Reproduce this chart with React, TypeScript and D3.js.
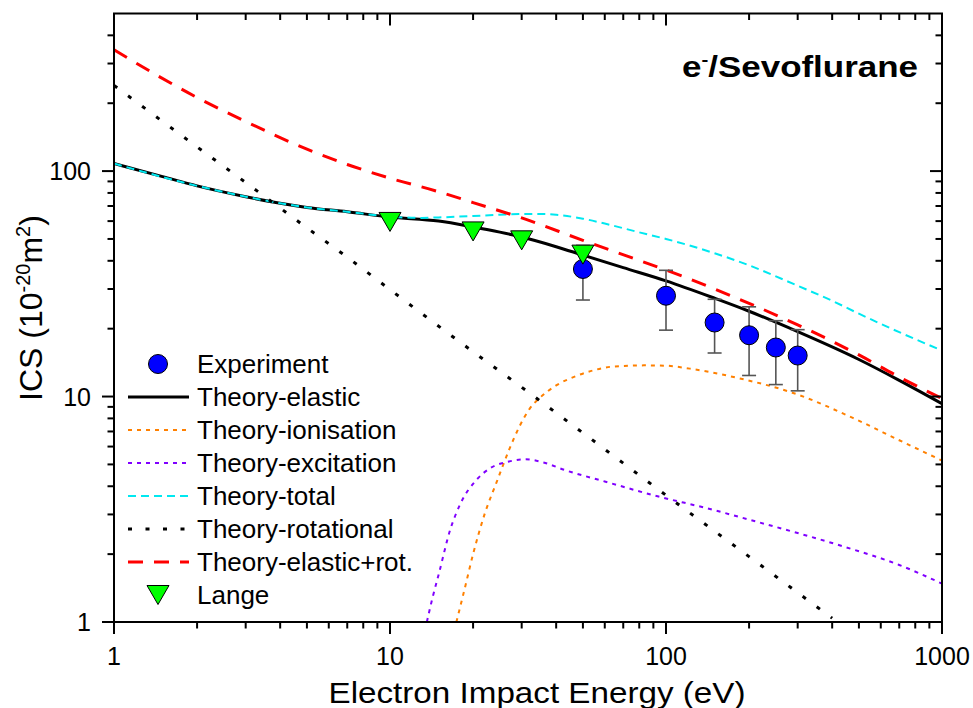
import React from 'react';
import * as d3 from 'd3';

const W = 973;
const H = 708;

// Theory-elastic
const elasticE = [1, 1.5, 2, 3, 4, 5, 7, 10, 15, 20, 25, 30, 40, 50, 70, 100, 150, 200, 300, 500, 700, 1000];
const elasticV = [108, 94.5, 86, 77, 72, 69, 66, 62.5, 60, 56.5, 53.6, 51, 46.2, 42.4, 37.3, 32.6, 27.3, 23.9, 19.4, 14.6, 11.8, 9.3];

// Theory-ionisation
const ionE = [17.4, 18.5, 20, 22, 24.3, 27, 29.5, 32, 35, 40, 47, 55, 65, 85, 100, 122, 184, 287, 490, 700, 1000];
const ionV = [1.0, 1.35, 2.0, 3.0, 4.15, 5.8, 7.4, 8.8, 9.9, 11.2, 12.3, 13.1, 13.6, 13.75, 13.7, 13.3, 12.05, 10.4, 7.9, 6.4, 5.2];

// Theory-excitation
const excE = [13.6, 14.3, 15, 16.5, 18, 20.5, 23, 27, 31, 36, 43, 60, 94, 140, 203, 300, 441, 700, 1000];
const excV = [1.0, 1.3, 1.62, 2.55, 3.35, 4.25, 4.8, 5.15, 5.27, 5.1, 4.72, 4.2, 3.6, 3.2, 2.83, 2.48, 2.16, 1.79, 1.48];

// Theory-total
const totalE = [1, 2, 3, 4, 5, 7, 10, 13, 15, 20, 25, 30, 35, 40, 50, 60, 80, 100, 150, 200, 300, 400, 500, 700, 1000];
const totalV = [108, 86, 77, 72, 69, 66, 62.8, 62, 62.3, 63.2, 64, 64.5, 64.5, 64, 61.5, 58.5, 53.5, 50, 43.2, 38.2, 31.0, 26.6, 23.3, 19.3, 16.0];

// Theory-rotational
const rotE = [1, 2, 3, 5, 7, 10, 20, 30, 50, 100, 200, 300, 400];
const rotV = [240, 128, 89, 56, 41.5, 29.8, 15.8, 11, 6.9, 3.65, 1.95, 1.35, 1.04];

// Theory-elastic+rot.
const elRotE = [1, 2, 3, 5, 7, 10, 15, 20, 30, 50, 75, 100, 150, 200, 300, 500, 700, 1000];
const elRotV = [345, 212, 166, 125, 107, 93, 81, 72.5, 62, 49.3, 41.3, 36.4, 30.0, 25.9, 20.8, 15.3, 12.2, 9.8];

// Experiment
const expE = [50, 100, 150, 200, 250, 300];
const expV = [36.8, 28.0, 21.3, 18.7, 16.5, 15.2];
const expErr = [10, 8.3, 5.7, 6.3, 5.2, 4.6];

// Lange
const langeE = [10, 20, 30, 50];
const langeV = [59.5, 54, 49.3, 42.6];

const xMajor = [1, 10, 100, 1000];
const xMajorLabels = ['1', '10', '100', '1000'];
const yMajor = [1, 10, 100];
const yMajorLabels = ['1', '10', '100'];

const FONT = '"Liberation Sans", Arial, Helvetica, sans-serif';

export default function App() {
  const left = 114, right = 942, top = 13.5, bottom = 622;
  const x = d3.scaleLog().domain([1, 1000]).range([left, right]);
  const y = d3.scaleLog().domain([1, 500]).range([bottom, top]);
  const line = d3
    .line<[number, number]>()
    .x((d) => x(d[0]))
    .y((d) => y(d[1]))
    .curve(d3.curveMonotoneX);
  const path = (es: number[], vs: number[]) => line(es.map((e, i) => [e, vs[i]] as [number, number])) || '';

  const xMinor: number[] = [];
  [1, 10, 100].forEach((d) => {
    for (let k = 2; k <= 9; k++) xMinor.push(d * k);
  });
  const yMinor: number[] = [];
  [1, 10, 100].forEach((d) => {
    for (let k = 2; k <= 9; k++) if (d * k < 500) yMinor.push(d * k);
  });

  const MAJ = 12, MIN = 6.5;

  const series = [
    { name: 'Theory-elastic', d: path(elasticE, elasticV), stroke: '#000', w: 3, dash: undefined as string | undefined },
    { name: 'Theory-ionisation', d: path(ionE, ionV), stroke: '#FF8000', w: 2, dash: '4,5' },
    { name: 'Theory-excitation', d: path(excE, excV), stroke: '#8000FF', w: 2, dash: '4,5' },
    { name: 'Theory-total', d: path(totalE, totalV), stroke: '#00E8F0', w: 2, dash: '8,5' },
    { name: 'Theory-rotational', d: path(rotE, rotV), stroke: '#000', w: 3, dash: '4,13.5' },
    { name: 'Theory-elastic+rot.', d: path(elRotE, elRotV), stroke: '#FF0000', w: 3, dash: '15,11' },
  ];

  const tri = (cx: number, cy: number) =>
    `M${cx - 11},${cy - 9.5} L${cx + 11},${cy - 9.5} L${cx},${cy + 9.5} Z`;

  const legendRows = [
    { label: 'Experiment', kind: 'circle' },
    { label: 'Theory-elastic', kind: 'line', s: series[0] },
    { label: 'Theory-ionisation', kind: 'line', s: series[1] },
    { label: 'Theory-excitation', kind: 'line', s: series[2] },
    { label: 'Theory-total', kind: 'line', s: series[3] },
    { label: 'Theory-rotational', kind: 'line', s: series[4] },
    { label: 'Theory-elastic+rot.', kind: 'line', s: series[5] },
    { label: 'Lange', kind: 'tri' },
  ];

  return (
    <svg
      width={W}
      height={H}
      viewBox={`0 0 ${W} ${H}`}
      style={{ position: 'absolute', left: 0, top: 0, background: '#fff' }}
      fontFamily={FONT}
    >
      <rect x={0} y={0} width={W} height={H} fill="#fff" />
      <defs>
        <clipPath id="plotclip">
          <rect x={left} y={top} width={right - left} height={bottom - top} />
        </clipPath>
      </defs>

      {/* curves */}
      <g clipPath="url(#plotclip)" fill="none">
        {series.map((s) => (
          <path key={s.name} d={s.d} stroke={s.stroke} strokeWidth={s.w} strokeDasharray={s.dash} />
        ))}
      </g>

      {/* experiment error bars and points */}
      <g>
        {expE.map((e, i) => {
          const cx = x(e);
          const yt = y(expV[i] + expErr[i]);
          const yb = y(expV[i] - expErr[i]);
          return (
            <g key={'eb' + e} stroke="#555" strokeWidth={1.6}>
              <line x1={cx} x2={cx} y1={yt} y2={yb} />
              <line x1={cx - 7} x2={cx + 7} y1={yt} y2={yt} />
              <line x1={cx - 7} x2={cx + 7} y1={yb} y2={yb} />
            </g>
          );
        })}
        {expE.map((e, i) => (
          <circle key={'ep' + e} cx={x(e)} cy={y(expV[i])} r={9.5} fill="#0000FF" stroke="#000" strokeWidth={1} />
        ))}
        {langeE.map((e, i) => (
          <path key={'lg' + e} d={tri(x(e), y(langeV[i]))} fill="#00FF00" stroke="#000" strokeWidth={1} />
        ))}
      </g>

      {/* ticks */}
      <g stroke="#000" strokeWidth={2}>
        {xMajor.map((v) => (
          <g key={'xM' + v}>
            <line x1={x(v)} x2={x(v)} y1={bottom} y2={bottom + MAJ} />
            <line x1={x(v)} x2={x(v)} y1={top} y2={top + MAJ} />
          </g>
        ))}
        {xMinor.map((v) => (
          <g key={'xm' + v}>
            <line x1={x(v)} x2={x(v)} y1={bottom} y2={bottom + MIN} />
            <line x1={x(v)} x2={x(v)} y1={top} y2={top + MIN} />
          </g>
        ))}
        {yMajor.map((v) => (
          <g key={'yM' + v}>
            <line x1={left} x2={left - MAJ} y1={y(v)} y2={y(v)} />
            <line x1={right} x2={right - MAJ} y1={y(v)} y2={y(v)} />
          </g>
        ))}
        {yMinor.map((v) => (
          <g key={'ym' + v}>
            <line x1={left} x2={left - MIN} y1={y(v)} y2={y(v)} />
            <line x1={right} x2={right - MIN} y1={y(v)} y2={y(v)} />
          </g>
        ))}
      </g>

      {/* frame */}
      <rect x={left} y={top} width={right - left} height={bottom - top} fill="none" stroke="#000" strokeWidth={2} />

      {/* tick labels */}
      <g fontSize={25} fill="#000">
        {xMajor.map((v, i) => (
          <text key={'xl' + v} x={x(v)} y={665} textAnchor="middle">
            {xMajorLabels[i]}
          </text>
        ))}
        {yMajor.map((v, i) => (
          <text key={'yl' + v} x={91} y={y(v) + 9} textAnchor="end">
            {yMajorLabels[i]}
          </text>
        ))}
      </g>

      {/* axis titles */}
      <text x={537} y={703} textAnchor="middle" fontSize={29} textLength={417} lengthAdjust="spacingAndGlyphs">
        Electron Impact Energy (eV)
      </text>
      <text transform="translate(42,308) rotate(-90)" textAnchor="middle" fontSize={32}>
        ICS (10
        <tspan dy={-12} fontSize={20}>-20</tspan>
        <tspan dy={12}>m</tspan>
        <tspan dy={-12} fontSize={20}>2</tspan>
        <tspan dy={12}>)</tspan>
      </text>

      {/* title */}
      <text x={918} y={77} textAnchor="end" fontSize={29} fontWeight="bold" textLength={236} lengthAdjust="spacingAndGlyphs">
        e<tspan dy={-12} fontSize={17}>-</tspan>
        <tspan dy={12}>/Sevoflurane</tspan>
      </text>

      {/* legend */}
      <g>
        {legendRows.map((r, i) => {
          const cy = 364 + i * 33;
          return (
            <g key={'leg' + i}>
              {r.kind === 'circle' && <circle cx={158} cy={cy} r={9.5} fill="#0000FF" stroke="#000" strokeWidth={1} />}
              {r.kind === 'tri' && <path d={tri(158, cy)} fill="#00FF00" stroke="#000" strokeWidth={1} />}
              {r.kind === 'line' && r.s && (
                <line
                  x1={128}
                  x2={189}
                  y1={cy}
                  y2={cy}
                  stroke={r.s.stroke}
                  strokeWidth={r.s.w}
                  strokeDasharray={r.s.dash}
                />
              )}
              <text x={197} y={cy + 9} fontSize={26} fill="#000">
                {r.label}
              </text>
            </g>
          );
        })}
      </g>
    </svg>
  );
}
